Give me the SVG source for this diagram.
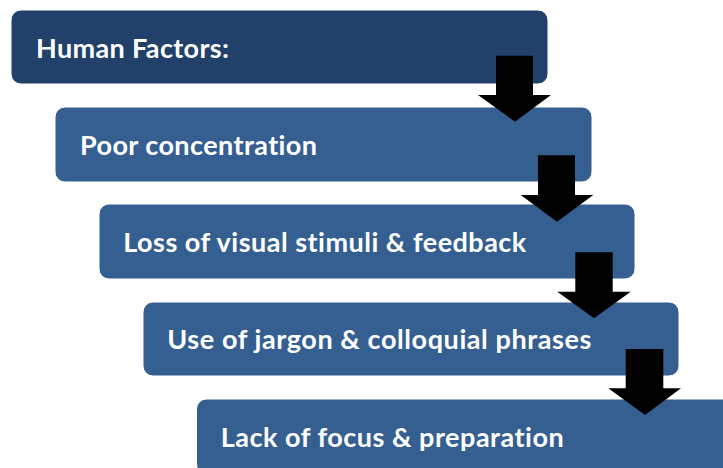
<svg xmlns="http://www.w3.org/2000/svg" width="723" height="468" viewBox="0 0 723 468">
<style>
.box{fill:#365f91;stroke:#ffffff;stroke-width:1}
.dark{fill:#21416a}
.lbl{fill:#ffffff;font-family:Lato,"Liberation Sans",Arial,sans-serif;font-weight:700;font-size:27px;font-variant-ligatures:none;font-feature-settings:"liga" 0,"clig" 0,"dlig" 0}
.arr{fill:#000000}
</style>
<rect width="723" height="468" fill="#ffffff"/>
<g id="node1"><rect class="box dark" x="11" y="10" width="537" height="74" rx="10"/><text class="lbl" x="36" y="57.5" textLength="193">Human Factors:</text></g>
<g id="node2"><rect class="box" x="55" y="107" width="537" height="75" rx="10"/><text class="lbl" x="80" y="155" textLength="237">Poor concentration</text></g>
<g id="node3"><rect class="box" x="99" y="204" width="536" height="75" rx="10"/><text class="lbl" x="123.3" y="252.3" textLength="403">Loss of visual stimuli &amp; feedback</text></g>
<g id="node4"><rect class="box" x="143" y="302" width="536" height="74" rx="10"/><text class="lbl" x="167.3" y="349.3" textLength="424">Use of jargon &amp; colloquial phrases</text></g>
<g id="node5"><rect class="box" x="196.5" y="399" width="537" height="75" rx="10"/><text class="lbl" x="220.7" y="446.7" textLength="343">Lack of focus &amp; preparation</text></g>
<g id="connectors">
<polygon class="arr" points="496,55.7 533,55.7 533,95 551,95 515,121.7 478,95 496,95"/>
<polygon class="arr" points="538,155.3 575,155.3 575,195 593.3,195 557,221.7 520.7,195 538,195"/>
<polygon class="arr" points="575.3,252.3 612.7,252.3 612.7,291.7 630.7,291.7 594,318.3 557.3,291.7 575.3,291.7"/>
<polygon class="arr" points="625.7,349 663.3,349 663.3,388.3 681,388.3 645,415 608.3,388.3 625.7,388.3"/>
</g>
</svg>
